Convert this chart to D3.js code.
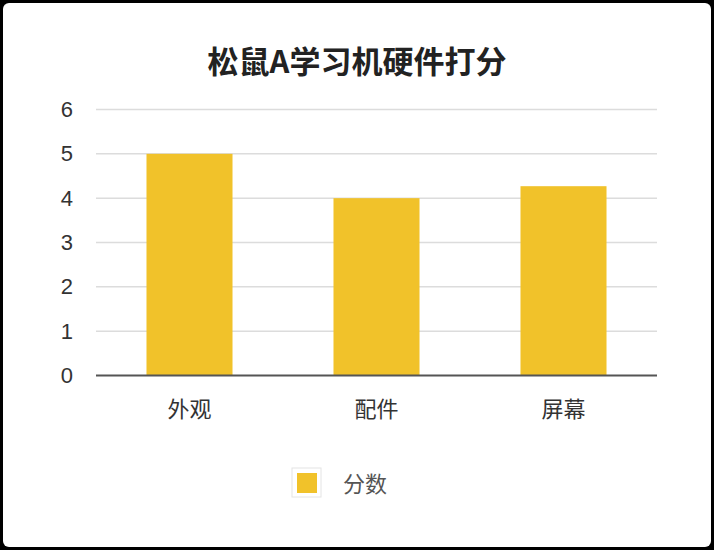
<!DOCTYPE html>
<html><head><meta charset="utf-8">
<script src="https://cdn.jsdelivr.net/npm/d3@7"></script>
<style>
html,body{margin:0;padding:0;background:#000;}
svg{display:block;}
</style></head>
<body>
<script>
const categories = ["外观", "配件", "屏幕"];
const scores = [5, 4, 4.27];
const yTicks = [0, 1, 2, 3, 4, 5, 6];
const title = "松鼠A学习机硬件打分";
const seriesName = "分数";

const W = 714, H = 550;
const font = "'Noto Sans CJK SC','Noto Sans',sans-serif";
const numFont = "'Liberation Sans','DejaVu Sans',sans-serif";
const svg = d3.select("body").append("svg").attr("width", W).attr("height", H);
svg.append("rect").attr("width", W).attr("height", H).attr("fill", "#000");
svg.append("rect").attr("x", 3).attr("y", 3).attr("width", W - 6).attr("height", H - 6)
  .attr("rx", 6).attr("fill", "#fff");

svg.append("text").attr("x", 357).attr("y", 59).attr("text-anchor", "middle")
  .attr("dominant-baseline", "central").attr("font-family", font).attr("font-weight", "bold")
  .attr("font-size", 31).attr("fill", "#222").text(title);

const x = d3.scaleBand().domain(categories).range([96, 657]).paddingInner(0.54).paddingOuter(0.27);
const y = d3.scaleLinear().domain([0, 6]).range([375.5, 109.5]);

const grid = svg.append("g");
grid.selectAll("line").data(yTicks.filter(d => d > 0)).join("line")
  .attr("x1", 96).attr("x2", 657).attr("y1", d => y(d)).attr("y2", d => y(d))
  .attr("stroke", "#dcdcdc").attr("stroke-width", 1.5);

svg.append("g").selectAll("rect").data(scores).join("rect")
  .attr("x", (d, i) => x(categories[i])).attr("width", x.bandwidth())
  .attr("y", d => y(d)).attr("height", d => y(0) - y(d)).attr("fill", "#F1C22A");

const yAxis = svg.append("g").attr("transform", "translate(73,0)")
  .call(d3.axisLeft(y).tickValues(yTicks).tickFormat(d3.format("d")).tickSize(0).tickPadding(0));
yAxis.select(".domain").remove();
yAxis.selectAll("text").attr("font-family", numFont).attr("font-size", 22).attr("fill", "#333");

const xAxis = svg.append("g").attr("transform", `translate(0,${y(0)})`)
  .call(d3.axisBottom(x).tickSize(0).tickPadding(26));
xAxis.select(".domain").attr("stroke", "#555").attr("stroke-width", 2).attr("d", "M96,0H657");
xAxis.selectAll("text").attr("font-family", font).attr("font-size", 22).attr("fill", "#333");

const lg = svg.append("g");
lg.append("rect").attr("x", 292).attr("y", 468).attr("width", 29).attr("height", 29)
  .attr("fill", "#fff").attr("stroke", "#e4e4e4").attr("stroke-width", 1);
lg.append("rect").attr("x", 297).attr("y", 473).attr("width", 20).attr("height", 20).attr("fill", "#F1C22A");
lg.append("text").attr("x", 343).attr("y", 482).attr("dominant-baseline", "central")
  .attr("font-family", font).attr("font-size", 22).attr("fill", "#555").text(seriesName);
</script>
</body></html>
